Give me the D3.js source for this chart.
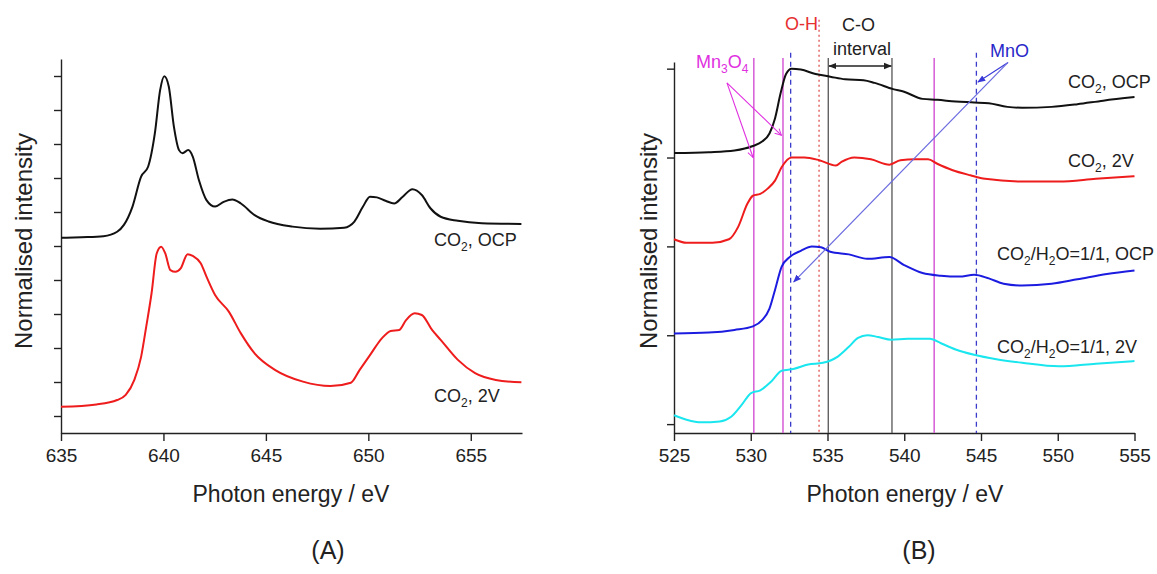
<!DOCTYPE html>
<meta charset="utf-8" />
<style>
  body { margin: 0; background: #fff; }
  svg { font-family: "Liberation Sans", Arial, sans-serif; }
  .axis path, .axis line { stroke: #222; stroke-width: 1.4; }
  .axis .tick text { font-size: 19px; fill: #222; }
  .title { font-size: 23px; fill: #222; }
  .lbl { font-size: 18px; fill: #222; }
</style>
<body>
<script src="https://d3js.org/d3.v7.min.js"></script>
<script>
// ---- data: panel A, Mn L-edge  [energy eV, normalised intensity]
var mnL_co2_ocp = [[635.0,5.24],[636.0,5.26],[637.07,5.29],[637.74,5.42],[638.07,5.62],[638.49,6.16],[638.91,7.04],[639.25,7.33],[639.58,8.31],[639.84,9.59],[640.04,9.99],[640.26,9.69],[640.51,8.51],[640.76,7.82],[640.93,7.73],[641.21,7.82],[641.43,7.63],[641.73,6.94],[642.10,6.35],[642.52,6.16],[642.94,6.30],[643.36,6.37],[643.78,6.25],[644.45,5.91],[645.13,5.72],[646.30,5.57],[647.65,5.51],[648.82,5.54],[649.32,5.72],[649.74,6.16],[650.08,6.45],[650.42,6.43],[650.84,6.33],[651.26,6.25],[651.68,6.45],[652.15,6.67],[652.61,6.50],[653.03,6.11],[653.53,5.86],[654.37,5.74],[655.54,5.67],[657.47,5.65]];
var mnL_co2_2v = [[635.0,0.27],[636.73,0.34],[637.74,0.47],[638.16,0.62],[638.58,1.06],[638.91,1.74],[639.16,2.63],[639.42,3.61],[639.67,4.78],[639.89,4.98],[640.09,4.78],[640.34,4.29],[640.59,4.24],[640.84,4.34],[641.18,4.76],[641.43,4.71],[641.82,4.49],[642.10,4.10],[642.52,3.56],[643.19,3.07],[643.78,2.43],[644.45,1.84],[645.46,1.35],[646.81,1.01],[648.15,0.88],[649.15,0.98],[649.57,1.35],[650.08,1.79],[650.67,2.29],[651.09,2.50],[651.51,2.53],[651.84,2.82],[652.26,3.02],[652.61,2.97],[653.11,2.53],[653.53,2.24],[654.37,1.65],[655.21,1.26],[656.22,1.06],[657.47,0.99]];

// ---- data: panel B, O K-edge
var oK_co2_ocp = [[525,3.05],[527.26,3.06],[528.94,3.08],[530.14,3.13],[530.74,3.18],[531.22,3.27],[531.58,3.44],[531.94,3.72],[532.30,3.94],[532.66,4.0],[533.26,3.99],[534.22,3.94],[535.18,3.91],[536.15,3.88],[537.35,3.87],[538.07,3.84],[539.27,3.77],[539.99,3.74],[541.19,3.66],[542.15,3.65],[543.35,3.63],[544.55,3.62],[545.51,3.61],[546.72,3.57],[547.68,3.56],[549.60,3.57],[551.28,3.60],[552.96,3.64],[555,3.68]];
var oK_co2_2v = [[525,2.08],[525.82,2.04],[527.50,2.04],[528.58,2.08],[529.18,2.22],[529.78,2.48],[530.14,2.57],[530.62,2.59],[531.10,2.65],[531.58,2.74],[532.01,2.89],[532.66,3.0],[533.50,3.0],[534.46,2.97],[535.55,2.91],[535.91,2.95],[536.75,3.0],[537.83,2.98],[539.03,2.92],[539.75,2.97],[540.71,2.98],[541.55,2.98],[542.15,2.93],[543.11,2.86],[544.31,2.80],[545.27,2.76],[547.68,2.73],[550.08,2.73],[552.48,2.76],[555,2.79]];
var oK_h2o_ocp = [[525,1.02],[527.26,1.03],[528.94,1.06],[530.14,1.10],[530.74,1.17],[531.22,1.30],[531.58,1.51],[532.01,1.77],[532.54,1.88],[533.26,1.95],[533.98,2.0],[534.58,1.99],[535.18,1.94],[536.39,1.91],[537.59,1.86],[539.03,1.88],[539.99,1.79],[541.19,1.70],[542.39,1.67],[543.59,1.66],[544.55,1.68],[545.51,1.64],[546.47,1.58],[547.68,1.56],[549.60,1.58],[551.28,1.63],[553.20,1.69],[555,1.73]];
var oK_h2o_2v = [[525,0.10],[525.82,0.05],[526.78,0.02],[527.98,0.03],[528.70,0.08],[529.42,0.22],[530.02,0.35],[530.62,0.38],[531.34,0.48],[532.01,0.60],[532.78,0.62],[533.74,0.67],[534.70,0.69],[535.67,0.76],[536.39,0.87],[536.99,0.97],[537.59,1.0],[538.31,0.98],[539.15,0.95],[540.23,0.96],[541.67,0.96],[542.39,0.91],[543.35,0.84],[544.55,0.78],[546.0,0.73],[547.68,0.69],[550.08,0.65],[552.48,0.68],[555,0.71]];

// reference energies in panel B
var mn3o4Lines = [530.2, 532.1, 541.95];
var mnoLines = [532.6, 544.7];
var ohLine = 534.45;
var coLines = [535.05, 539.2];

// tick values
var xTicksA = [635, 640, 645, 650, 655];
var xMinorA = [637.5, 642.5, 647.5, 652.5, 657.5];
var yTicksA = d3.range(0, 11, 1);
var yMinorA = d3.range(0.5, 11, 1);
var xTicksB = [525, 530, 535, 540, 545, 550, 555];
var xMinorB = [527.5, 532.5, 537.5, 542.5, 547.5, 552.5];
var yTicksB = [0, 1, 2, 3, 4];
var yMinorB = [0.5, 1.5, 2.5, 3.5];

var width = 1157, height = 574;
var svg = d3.select("body").append("svg")
  .attr("width", width).attr("height", height)
  .style("background", "#fff");

var defs = svg.append("defs");
function marker(id, color, open) {
  var m = defs.append("marker").attr("id", id)
    .attr("viewBox", "0 0 10 10").attr("refX", 9).attr("refY", 5)
    .attr("markerWidth", 8).attr("markerHeight", 8)
    .attr("markerUnits", "userSpaceOnUse")
    .attr("orient", "auto-start-reverse");
  if (open) {
    m.append("path").attr("d", "M1,1L9,5L1,9").attr("fill", "none")
      .attr("stroke", color).attr("stroke-width", 1.2);
  } else {
    m.append("path").attr("d", "M0,1L10,5L0,9Z").attr("fill", color);
  }
}
marker("arrMag", "#e030e0", true);
marker("arrBlue", "#3838d8", false);
marker("arrBlk", "#222", false);

var xA = d3.scaleLinear().domain([635, 657.5]).range([61, 522]);
var yA = d3.scaleLinear().domain([-0.5, 10.5]).range([433, 59]);
var xB = d3.scaleLinear().domain([525, 555]).range([674, 1134.5]);
var yB = d3.scaleLinear().domain([-0.1, 4.075]).range([433, 62]);

function axes(x, y, xt, xm, yt, ym) {
  var x0 = x.range()[0], y0 = y.range()[0];
  var g = svg.append("g").attr("class", "axis").attr("transform", "translate(0," + y0 + ")");
  g.call(d3.axisBottom(x).tickValues(xm).tickSize(5).tickFormat("").tickSizeOuter(0));
  g.call(d3.axisBottom(x).tickValues(xt).tickSize(8).tickPadding(8).tickSizeOuter(0));
  g.attr("font-size", null).attr("font-family", null);
  var gy = svg.append("g").attr("class", "axis").attr("transform", "translate(" + x0 + ",0)");
  gy.call(d3.axisLeft(y).tickValues(ym).tickSize(4).tickFormat("").tickSizeOuter(0));
  gy.call(d3.axisLeft(y).tickValues(yt).tickSize(7).tickFormat("").tickSizeOuter(0));
}
axes(xA, yA, xTicksA, xMinorA, yTicksA, yMinorA);
axes(xB, yB, xTicksB, xMinorB, yTicksB, yMinorB);

// reference lines in panel B (drawn under the spectra)
function vline(e, top, color, dash, w) {
  svg.append("line")
    .attr("x1", xB(e)).attr("x2", xB(e))
    .attr("y1", yB(top)).attr("y2", yB(-0.1))
    .attr("stroke", color).attr("stroke-width", w || 1.3)
    .attr("stroke-dasharray", dash);
}
mn3o4Lines.forEach(function(e) { vline(e, 4.12, "#d65cd6", null, 1.5); });
coLines.forEach(function(e) { vline(e, 4.12, "#555", null, 1.3); });
mnoLines.forEach(function(e) { vline(e, 4.18, "#3b3bcc", "5,4", 1.3); });
vline(ohLine, 4.55, "#e05050", "2,3", 1.3);

var lineA = d3.line().x(function(d) { return xA(d[0]); }).y(function(d) { return yA(d[1]); }).curve(d3.curveMonotoneX);
var lineB = d3.line().x(function(d) { return xB(d[0]); }).y(function(d) { return yB(d[1]); }).curve(d3.curveMonotoneX);

var seriesA = [[mnL_co2_ocp, "#111"], [mnL_co2_2v, "#ee1c1c"]];
var seriesB = [[oK_co2_ocp, "#111"], [oK_co2_2v, "#ee1c1c"], [oK_h2o_ocp, "#1c1ce0"], [oK_h2o_2v, "#19e6ee"]];
svg.selectAll(".sa").data(seriesA).enter().append("path")
  .attr("d", function(d) { return lineA(d[0]); })
  .attr("fill", "none").attr("stroke", function(d) { return d[1]; }).attr("stroke-width", 2);
svg.selectAll(".sb").data(seriesB).enter().append("path")
  .attr("d", function(d) { return lineB(d[0]); })
  .attr("fill", "none").attr("stroke", function(d) { return d[1]; }).attr("stroke-width", 2);

// text with subscripts: parts = [[text, isSub], ...]
function rich(x, y, parts, color, size) {
  var t = svg.append("text").attr("class", "lbl").attr("x", x).attr("y", y)
    .style("fill", color || "#222");
  if (size) t.style("font-size", size + "px");
  var shifted = false;
  parts.forEach(function(p) {
    var s = t.append("tspan").text(p[0]);
    if (p[1] && !shifted) { s.attr("dy", 5).style("font-size", "12px"); shifted = true; }
    else if (p[1]) { s.style("font-size", "12px"); }
    else if (shifted) { s.attr("dy", -5); shifted = false; }
  });
  return t;
}

rich(434, 246, [["CO"], ["2", 1], [", OCP"]]);
rich(434, 402, [["CO"], ["2", 1], [", 2V"]]);
rich(1068, 88, [["CO"], ["2", 1], [", OCP"]]);
rich(1068, 167, [["CO"], ["2", 1], [", 2V"]]);
rich(997, 260, [["CO"], ["2", 1], ["/H"], ["2", 1], ["O=1/1, OCP"]]);
rich(997, 353, [["CO"], ["2", 1], ["/H"], ["2", 1], ["O=1/1, 2V"]]);

// annotations panel B
rich(785, 30, [["O-H"]], "#e63030");
rich(842, 31, [["C-O"]], "#222");
rich(833, 55, [["interval"]], "#222");
rich(696, 68, [["Mn"], ["3", 1], ["O"], ["4", 1]], "#e030e0");
rich(990, 57, [["MnO"]], "#2828c8");

function arrow(e1, v1, e2, v2, color, mk, w, both) {
  var l = svg.append("line")
    .attr("x1", xB(e1)).attr("y1", yB(v1)).attr("x2", xB(e2)).attr("y2", yB(v2))
    .attr("stroke", color).attr("stroke-width", w)
    .attr("marker-end", "url(#" + mk + ")");
  if (both) l.attr("marker-start", "url(#" + mk + ")");
}
arrow(535.1, 4.03, 539.15, 4.03, "#222", "arrBlk", 1.3, true);
arrow(528.45, 3.84, 530.15, 3.0, "#e030e0", "arrMag", 1.1);
arrow(528.45, 3.84, 532.0, 3.25, "#e030e0", "arrMag", 1.1);
arrow(546.76, 4.07, 544.8, 3.85, "#3838d8", "arrBlue", 1.1);
arrow(546.76, 4.07, 532.8, 1.6, "#6b6be0", "arrBlue", 1.2);

// axis titles
[[xA, 32], [xB, 657]].forEach(function(p) {
  var cx = p[1], cy = 241;
  svg.append("text").attr("class", "title")
    .attr("transform", "translate(" + cx + "," + cy + ") rotate(-90)")
    .attr("text-anchor", "middle").style("font-size", "24px")
    .text("Normalised intensity");
});
svg.append("text").attr("class", "title").attr("x", 291).attr("y", 502)
  .attr("text-anchor", "middle").text("Photon energy / eV");
svg.append("text").attr("class", "title").attr("x", 905).attr("y", 502)
  .attr("text-anchor", "middle").text("Photon energy / eV");
svg.append("text").attr("class", "title").attr("x", 328).attr("y", 559)
  .attr("text-anchor", "middle").style("font-size", "25px").text("(A)");
svg.append("text").attr("class", "title").attr("x", 919).attr("y", 559)
  .attr("text-anchor", "middle").style("font-size", "25px").text("(B)");
</script>
</body>
